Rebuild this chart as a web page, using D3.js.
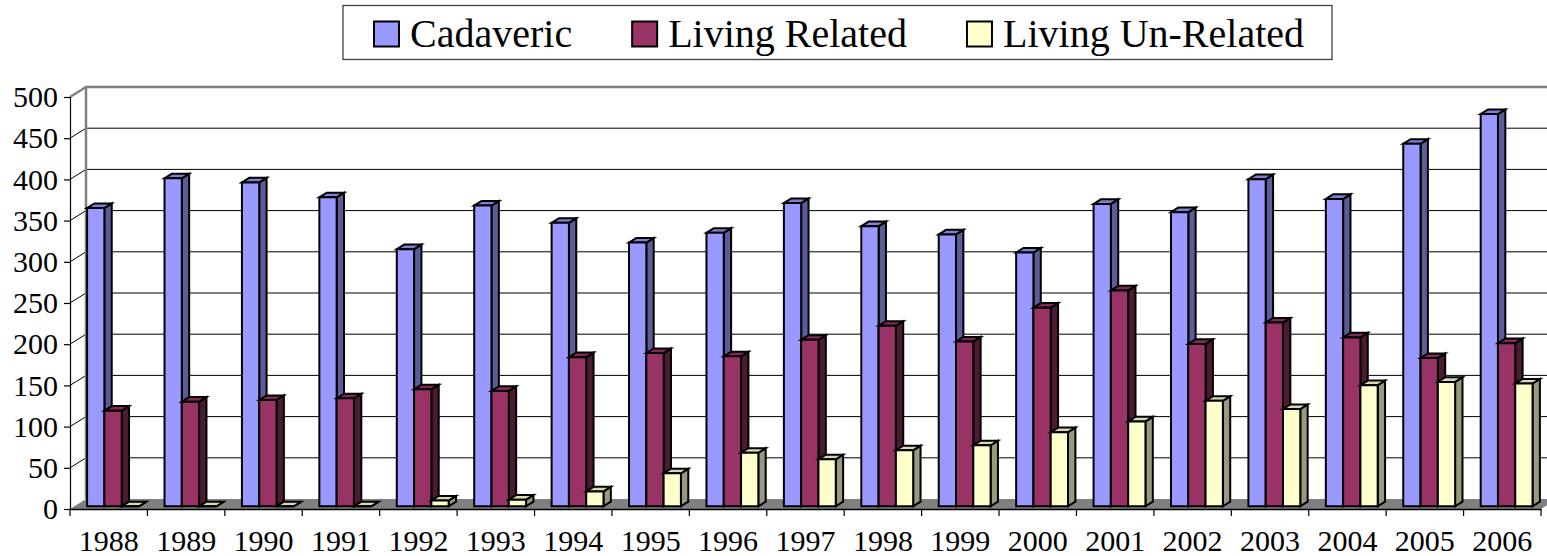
<!DOCTYPE html>
<html>
<head>
<meta charset="utf-8">
<script src="https://cdn.jsdelivr.net/npm/d3@7/dist/d3.min.js"></script>
<style>
  html, body { margin: 0; padding: 0; background: #fff; }
  svg { display: block; }
  text { font-family: "Liberation Serif", "Times New Roman", serif; fill: #000; }
</style>
</head>
<body>
<svg id="chart" width="1547" height="556"></svg>
<script>
const years = ["1988","1989","1990","1991","1992","1993","1994","1995","1996","1997","1998","1999","2000","2001","2002","2003","2004","2005","2006"];
const seriesNames = ["Cadaveric", "Living Related", "Living Un-Related"];
const cadaveric      = [362,398,393,375,312,365,344,320,332,368,340,330,308,367,357,397,373,440,476];
const livingRelated  = [116,127,129,131,142,140,181,186,182,202,219,200,241,262,197,223,205,180,198];
const livingUnrelated= [0,0,0,0,7,8,18,40,65,57,68,74,90,103,128,118,147,151,149];
const yTickValues = [0,50,100,150,200,250,300,350,400,450,500];

const seriesValues = [cadaveric, livingRelated, livingUnrelated];
const colors = {
  front: ["#9999FF", "#993366", "#FFFFCC"],
  top:   ["#7f7fd4", "#7f2a55", "#d9d9ad"],
  side:  ["#5c5c99", "#4d1a33", "#999980"]
};
const SERIF = '"Liberation Serif", "Times New Roman", serif';

const svg = d3.select("#chart");
const left = 70, right = 1541, bottom = 509, topY = 97;
const DX = 16, DY = -10;          // depth offset of the back wall
const z0 = 0.27, z1 = 0.73;       // bar depth range

const x0 = d3.scaleBand().domain(years).range([left, right]).padding(0);
const x1 = d3.scaleBand().domain(seriesNames)
  .range([x0.bandwidth() * 0.165, x0.bandwidth() * 0.835]).padding(0);
const y = d3.scaleLinear().domain([0, 500]).range([bottom, topY]);

const P = (xf, v, z) => [xf + DX * z, y(v) + DY * z];
const poly = pts => pts.map(p => p.join(",")).join(" ");

// Left side wall
svg.append("polygon")
  .attr("points", poly([P(left,0,0), P(left,500,0), P(left,500,1), P(left,0,1)]))
  .attr("fill", "#fff");
// Back wall
svg.append("polygon")
  .attr("points", poly([P(left,0,1), P(left,500,1), P(right,500,1), P(right,0,1)]))
  .attr("fill", "#fff");

// Gridlines on back wall and diagonals on side wall
const gridVals = yTickValues.filter(v => v > 0 && v < 500);
svg.append("g").selectAll("line.grid").data(gridVals).join("line")
  .attr("x1", v => P(left, v, 1)[0]).attr("y1", v => P(left, v, 1)[1])
  .attr("x2", v => P(right, v, 1)[0]).attr("y2", v => P(right, v, 1)[1])
  .attr("stroke", "#000").attr("stroke-width", 1);
svg.append("g").selectAll("line.diag").data(gridVals).join("line")
  .attr("x1", v => P(left, v, 0)[0]).attr("y1", v => P(left, v, 0)[1])
  .attr("x2", v => P(left, v, 1)[0]).attr("y2", v => P(left, v, 1)[1])
  .attr("stroke", "#000").attr("stroke-width", 1);

// Floor
svg.append("polygon")
  .attr("points", poly([P(left,0,0), P(right,0,0), P(right,0,1), P(left,0,1)]))
  .attr("fill", "#808080");

// Wall borders (gray)
const wallBorder = svg.append("g").attr("stroke", "#808080").attr("stroke-width", 2.5).attr("fill", "none");
wallBorder.append("polyline")
  .attr("points", poly([P(left,0,1), P(left,500,1), P(right,500,1)]));
wallBorder.append("line")
  .attr("x1", P(left,500,0)[0]).attr("y1", P(left,500,0)[1])
  .attr("x2", P(left,500,1)[0]).attr("y2", P(left,500,1)[1]);

// Bars
const barsG = svg.append("g").attr("stroke", "#000").attr("stroke-width", 2).attr("stroke-linejoin", "miter");
years.forEach((yr, i) => {
  seriesNames.forEach((s, k) => {
    const v = seriesValues[k][i];
    const xa = x0(yr) + x1(s);
    const xb = xa + x1.bandwidth();
    const g = barsG.append("g");
    g.append("polygon")
      .attr("points", poly([P(xb,0,z0), P(xb,v,z0), P(xb,v,z1), P(xb,0,z1)]))
      .attr("fill", colors.side[k]);
    g.append("polygon")
      .attr("points", poly([P(xa,v,z0), P(xb,v,z0), P(xb,v,z1), P(xa,v,z1)]))
      .attr("fill", colors.top[k]);
    g.append("polygon")
      .attr("points", poly([P(xa,0,z0), P(xb,0,z0), P(xb,v,z0), P(xa,v,z0)]))
      .attr("fill", colors.front[k]);
  });
});

// Front value axis
const yAxis = d3.axisLeft(y).tickValues(yTickValues).tickSize(6).tickPadding(6).tickFormat(d3.format("d"));
const gy = svg.append("g").attr("transform", `translate(${left},0)`).call(yAxis);
gy.attr("font-family", null).attr("font-size", null);
gy.select(".domain").attr("stroke", "#000").attr("stroke-width", 1.2);
gy.selectAll(".tick line").attr("stroke", "#000").attr("stroke-width", 1.2);
gy.selectAll(".tick text")
  .style("font-family", SERIF).style("font-size", "30px").attr("fill", "#000");

// Category axis
const xAxis = d3.axisBottom(x0).tickSize(0).tickPadding(0);
const gx = svg.append("g").attr("transform", `translate(0,${bottom})`).call(xAxis);
gx.attr("font-family", null).attr("font-size", null);
gx.select(".domain").attr("stroke", "#000").attr("stroke-width", 1.5);
gx.selectAll(".tick text")
  .attr("y", 42).attr("dy", null)
  .style("font-family", SERIF).style("font-size", "30px").attr("fill", "#000");
// category boundary ticks
const boundaries = years.map(yr => x0(yr)).concat([right]);
svg.append("g").selectAll("line").data(boundaries).join("line")
  .attr("x1", d => d).attr("x2", d => d)
  .attr("y1", bottom).attr("y2", bottom + 7)
  .attr("stroke", "#000").attr("stroke-width", 1.2);

// Legend
const legend = svg.append("g");
legend.append("rect")
  .attr("x", 343).attr("y", 5.5).attr("width", 989).attr("height", 54)
  .attr("fill", "#fff").attr("stroke", "#404040").attr("stroke-width", 1.3);
let lx = 374;
seriesNames.forEach((s, k) => {
  legend.append("rect")
    .attr("x", lx).attr("y", 21.5).attr("width", 25).attr("height", 25)
    .attr("fill", colors.front[k]).attr("stroke", "#000").attr("stroke-width", 2);
  const t = legend.append("text")
    .attr("x", lx + 36).attr("y", 47)
    .style("font-family", SERIF).style("font-size", "40px").text(s);
  lx = lx + 36 + t.node().getComputedTextLength() + 60;
});
</script>
</body>
</html>
